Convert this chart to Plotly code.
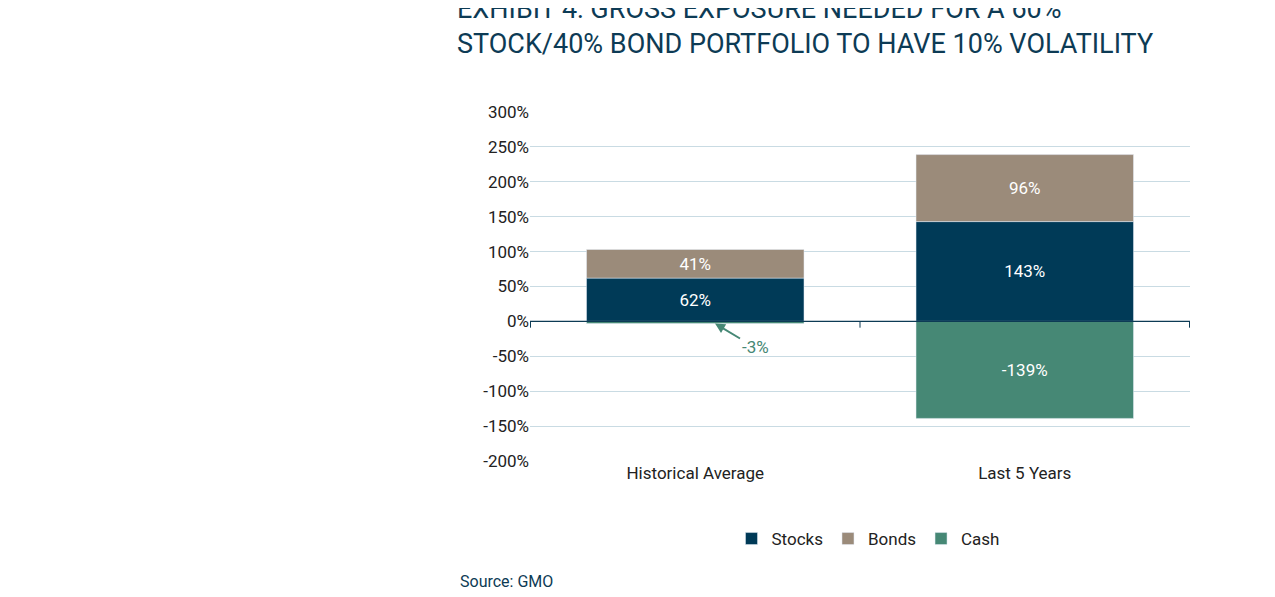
import plotly.graph_objects as go

categories = ["Historical Average", "Last 5 Years"]
stocks = [62, 143]
bonds = [41, 96]
cash = [-3, -139]
cash_labels = ["", "-139%"]
tick_vals = [-200, -150, -100, -50, 0, 50, 100, 150, 200, 250, 300]
tick_text = [f"{v}%" for v in tick_vals]

C_STOCK, C_BOND, C_CASH = "#003a57", "#9b8b7a", "#468875"
DARK = "#0d3b55"
F = "Roboto"
L, R, T, B = 522, 93, 104, 144
W, H = 1275, 597
PW, PH = W - L - R, H - T - B

fig = go.Figure()
for name, vals, col, txt in [("Stocks", stocks, C_STOCK, [f"{v}%" for v in stocks]),
                             ("Bonds", bonds, C_BOND, [f"{v}%" for v in bonds]),
                             ("Cash", cash, C_CASH, cash_labels)]:
    fig.add_bar(name=name, x=categories, y=vals, marker_color=col,
                text=txt, textposition="inside", insidetextanchor="middle",
                textfont=dict(color="white", size=17, family=F))

shapes = [dict(type="line", xref="x", yref="y", x0=b, x1=b, y0=0, y1=-9,
               line=dict(color=DARK, width=1)) for b in (-0.5, 0.5, 1.5)]
shapes.append(dict(type="line", xref="paper", yref="y", x0=0, x1=1, y0=0, y1=0,
                   line=dict(color=DARK, width=1.3)))

fig.update_layout(
    width=W, height=H, barmode="relative", bargap=0.34,
    margin=dict(l=L, r=R, t=T, b=B, autoexpand=False),
    plot_bgcolor="white", paper_bgcolor="white",
    font=dict(family=F, color="#222", size=17),
    title=dict(text="EXHIBIT 4: GROSS EXPOSURE NEEDED FOR A 60%<br>STOCK/40% BOND PORTFOLIO TO HAVE 10% VOLATILITY",
               xref="container", yref="container",
               x=449/W, xanchor="left", y=1 - 10/H, yanchor="top",
               font=dict(family=F, size=27, color=DARK)),
    yaxis=dict(range=[-200, 300], tickvals=tick_vals, ticktext=tick_text, automargin=False,
               gridcolor="#c9dbe3", zeroline=False, tickfont=dict(size=17, color="#222"),
               ticks="", showline=False),
    xaxis=dict(showline=False, ticks="", automargin=False, tickfont=dict(size=17, color="#222")),
    legend=dict(orientation="h", x=(860 - L) / PW, xanchor="center",
                y=(H - B - 531) / PH, yanchor="middle",
                font=dict(size=17), traceorder="normal"),
    shapes=shapes,
    annotations=[
        dict(x=0.06, y=-3, xref="x", yref="y", ax=40, ay=24, text="-3%",
             showarrow=True, arrowhead=2, arrowsize=1, arrowwidth=2, arrowcolor=C_CASH,
             font=dict(color=C_CASH, size=17, family=F), xanchor="center"),
        dict(x=(450 - L) / PW, y=(H - B - 573) / PH, xref="paper", yref="paper",
             xanchor="left", yanchor="middle", text="Source: GMO", showarrow=False,
             font=dict(color=DARK, size=16, family=F)),
    ],
)
fig.write_html("out.html")
